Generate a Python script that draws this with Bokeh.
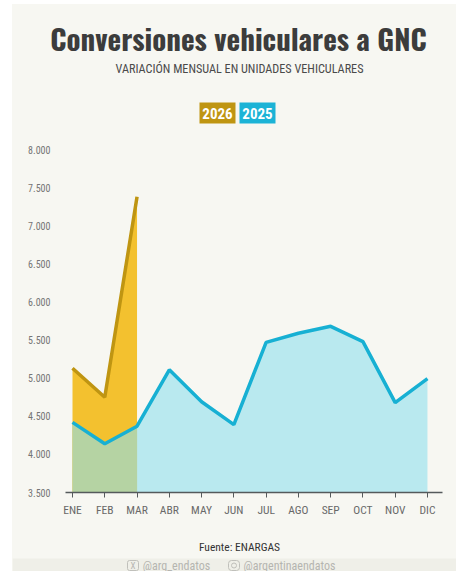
from bokeh.plotting import figure
from bokeh.layouts import column
from bokeh.models import Label, BoxAnnotation, FixedTicker, Range1d
from bokeh.embed import file_html
from bokeh.resources import INLINE

MONTHS = ["ENE","FEB","MAR","ABR","MAY","JUN","JUL","AGO","SEP","OCT","NOV","DIC"]
V2025 = [4420,4140,4370,5110,4690,4390,5470,5590,5680,5480,4680,4995]
V2026 = [5130,4750,7380]
YTICKS = [3500,4000,4500,5000,5500,6000,6500,7000,7500,8000]
YLABELS = ["3.500","4.000","4.500","5.000","5.500","6.000","6.500","7.000","7.500","8.000"]

BG = "#F7F7F2"
FONT = "Roboto Condensed"
OX, OY, PW, PB = 12, 4, 456, 571
L, R, T, B = 65, 442, 149, 492
HEAD_B, FOOT_T = 135, 525

def strip(t, b):
    f = figure(width=PW-OX, height=b-t, output_backend="svg", toolbar_location=None,
               x_range=Range1d(OX, PW), y_range=Range1d(b, t), min_border=0,
               background_fill_color=None, border_fill_color=BG, outline_line_color=None,
               margin=(0, 0, 0, OX), frame_align=False, styles={"background-color": BG})
    f.axis.visible = False
    f.grid.visible = False
    return f

def box(f, l, t, r, b, c, line=None, radius=0):
    f.add_layout(BoxAnnotation(left=l, right=r, top=t, bottom=b, fill_color=c, fill_alpha=1 if c else 0,
                               line_color=line, line_alpha=1, line_width=1, border_radius=radius, level="underlay"))

def txt(f, x, y, s, size, color, style="normal", font=FONT):
    f.add_layout(Label(x=x, y=y, text=s, text_font=font, text_font_size=size, text_color=color,
                       text_font_style=style, text_align="center", text_baseline="middle"))

head = strip(OY, HEAD_B)
head.margin = (OY, 0, 0, OX)
box(head, 199, 102, 235, 123, "#BF9512")
box(head, 239, 102, 275, 123, "#1CB3D6")
txt(head, 238, 37, "Conversiones vehiculares a GNC", "29px", "#3c3c3c", "bold", "Oswald")
txt(head, 239, 68, "VARIACIÓN MENSUAL EN UNIDADES VEHICULARES", "12.2px", "#4a4a4a")
txt(head, 217, 113, "2026", "15px", "#ffffff", "bold")
txt(head, 257, 113, "2025", "15px", "#ffffff", "bold")

p = figure(width=PW-OX, height=FOOT_T-HEAD_B, output_backend="svg", toolbar_location=None,
           x_range=Range1d((L-72)/32.27, (R-72)/32.27), y_range=Range1d(3500, 8000),
           min_border_left=L-OX, min_border_right=PW-R, min_border_top=T-HEAD_B, min_border_bottom=FOOT_T-B,
           background_fill_color=None, border_fill_color=BG, outline_line_color=None,
           margin=(0, 0, 0, OX), frame_align=False, styles={"background-color": BG})
p.grid.visible = False
xs = list(range(len(MONTHS)))
p.xaxis.ticker = FixedTicker(ticks=xs)
p.xaxis.major_label_overrides = {i: m for i, m in enumerate(MONTHS)}
p.xaxis.major_label_text_font = FONT
p.xaxis.major_label_text_font_size = "11.5px"
p.xaxis.major_label_text_color = "#696969"
p.xaxis.major_label_standoff = 5
p.xaxis.axis_line_color = "#555a5c"
p.xaxis.axis_line_width = 1.5
p.xaxis.major_tick_line_color = "#555a5c"
p.xaxis.major_tick_in = 0
p.xaxis.major_tick_out = 5
p.xaxis.minor_tick_line_color = None
p.yaxis.ticker = FixedTicker(ticks=YTICKS)
p.yaxis.major_label_overrides = dict(zip(YTICKS, YLABELS))
p.yaxis.major_label_text_font = FONT
p.yaxis.major_label_text_font_size = "10px"
p.yaxis.major_label_text_color = "#757575"
p.yaxis.axis_line_color = None
p.yaxis.major_tick_line_color = None
p.yaxis.minor_tick_line_color = None
p.yaxis.major_label_standoff = 9

p.varea(xs, [3500]*12, V2025, fill_color="#B9E9EF")
p.varea(xs[:3], [3500]*3, V2026, fill_color="#F3C12F")
p.varea(xs[:3], [3500]*3, V2025[:3], fill_color="#B5D3A3")
p.line(xs[:3], V2026, line_color="#BF9512", line_width=3.5)
p.line(xs, V2025, line_color="#17B0D3", line_width=3.5)

foot = strip(FOOT_T, PB)
box(foot, OX, 558, PW, PB, "#EFEFE8")
box(foot, 127, 560, 138, 570, None, "#c0c0bb", 2)
txt(foot, 132.5, 565, "X", "9px", "#b5b5b0")
box(foot, 228, 560, 239, 570, None, "#c0c0bb", 3)
box(foot, 231, 562.5, 236, 567.5, None, "#c0c0bb", 3)
txt(foot, 239, 546, "Fuente: ENARGAS", "11.5px", "#333333")
txt(foot, 176, 565, "@arg_endatos", "12px", "#b5b5b0")
txt(foot, 289, 565, "@argentinaendatos", "12px", "#b5b5b0")

page = column(head, p, foot, spacing=0)
open("out.html", "w").write(file_html(page, INLINE))
